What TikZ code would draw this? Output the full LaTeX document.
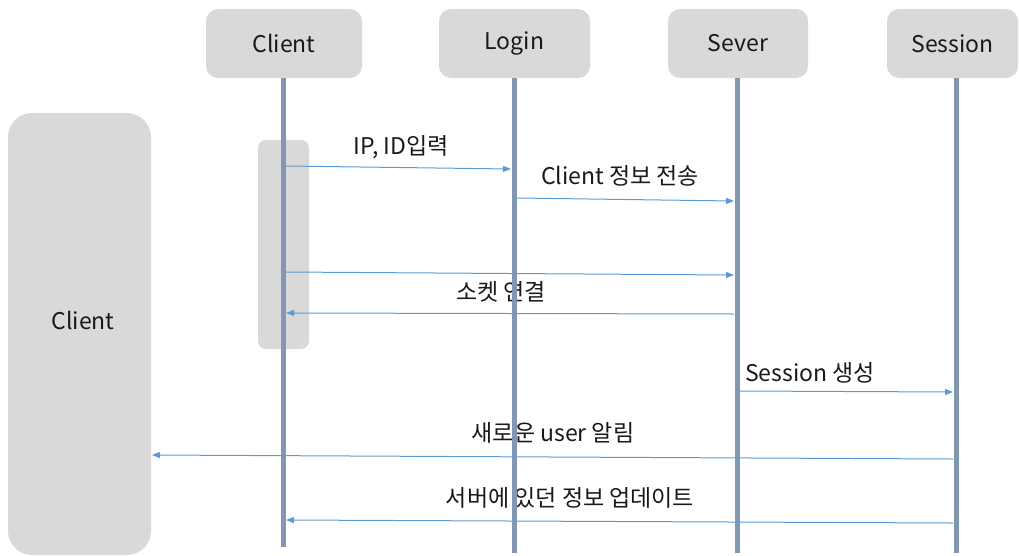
\documentclass[tikz,border=0pt]{standalone}
\usepackage{fontspec}
\setmainfont{Noto Sans CJK KR}
\usetikzlibrary{arrows.meta}
\definecolor{boxgray}{HTML}{D9D9D9}
\definecolor{lifeblue}{HTML}{8497B0}
\definecolor{arrowblue}{HTML}{5B9BD5}
\begin{document}
\begin{tikzpicture}[x=1pt,y=-1pt,
  hdr/.style={fill=boxgray, draw=none, rounded corners=12pt, minimum height=69pt, inner sep=0pt,
    font=\fontsize{23}{27}\selectfont, text=black!90},
  msg/.style={draw=arrowblue, line width=1pt, -{Triangle[length=8pt,width=6pt]}},
  life/.style={draw=lifeblue, line width=5pt},
  lbl/.style={font=\fontsize{23}{27}\selectfont, text=black!90, inner sep=0pt}]
\useasboundingbox (0,0) rectangle (1019,555);
% header boxes
\node[hdr, minimum width=156pt] (hc) at (284,43.5) {Client};
\node[hdr, minimum width=151pt] (hl) at (514.5,43.5) {Login};
\node[hdr, minimum width=140pt] (hs) at (738,43.5) {Sever};
\node[hdr, minimum width=131pt] (hx) at (952.5,43.5) {Session};
% big client box
\node[fill=boxgray, draw=none, rounded corners=24pt, minimum width=143pt, minimum height=442pt, inner sep=0pt] (bc) at (79.5,334) {};
\node[lbl] (bcl) at (83,320) {Client};
% activation box
\node[fill=boxgray, draw=none, rounded corners=8pt, minimum width=51pt, minimum height=209pt, inner sep=0pt] (act) at (283.5,244.5) {};
% labels
\node[lbl] (t1) at (401,147) {IP, ID입력};
\node[lbl] (t2) at (620,176) {Client 정보 전송};
\node[lbl] (t4) at (501,292) {소켓 연결};
\node[lbl] (t5) at (810,373) {Session 생성};
\node[lbl] (t6) at (553,433) {새로운 user 알림};
\node[lbl] (t7) at (570,498) {서버에 있던 정보 업데이트};
% lifeline ends
\coordinate (ec) at (283,547);
\coordinate (el) at (514,553);
\coordinate (es) at (737,553);
\coordinate (ex) at (956,553);
\draw[life] (283,78) -- (ec);
\draw[life] (514,78) -- (el);
\draw[life] (737,78) -- (es);
\draw[life] (956,78) -- (ex);
% message end points
\coordinate (m1s) at (286,166); \coordinate (m1e) at (511,169);
\coordinate (m2s) at (517,198); \coordinate (m2e) at (734,201);
\coordinate (m3s) at (286,272); \coordinate (m3e) at (734,275);
\coordinate (m4s) at (734,314); \coordinate (m4e) at (286,313);
\coordinate (m5s) at (740,391); \coordinate (m5e) at (953,392);
\coordinate (m6s) at (953,459); \coordinate (m6e) at (152,455);
\coordinate (m7s) at (953,523); \coordinate (m7e) at (286,520);
\draw[msg] (m1s) -- (m1e);
\draw[msg] (m2s) -- (m2e);
\draw[msg] (m3s) -- (m3e);
\draw[msg] (m4s) -- (m4e);
\draw[msg] (m5s) -- (m5e);
\draw[msg] (m6s) -- (m6e);
\draw[msg] (m7s) -- (m7e);
\end{tikzpicture}
\end{document}
